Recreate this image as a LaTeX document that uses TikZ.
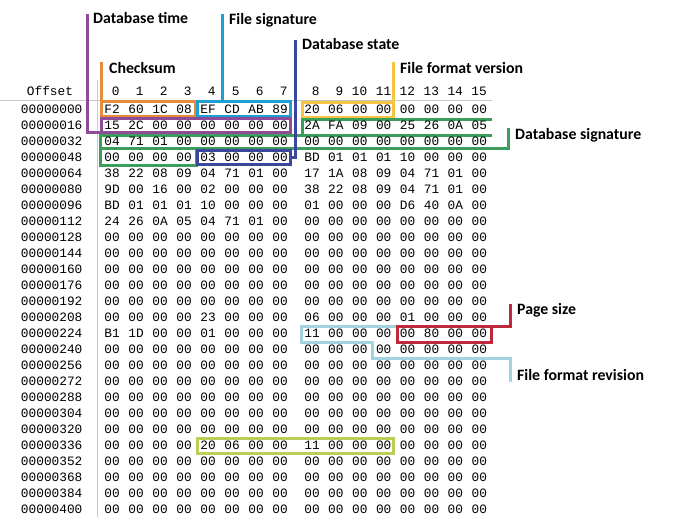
\documentclass[tikz,border=0pt]{standalone}
\usepackage{fontspec}
\setmonofont{Liberation Mono}
\newfontfamily\lblfont{Carlito}
\definecolor{cpurple}{HTML}{8E4B97}
\definecolor{corange}{HTML}{E58B3A}
\definecolor{ccyan}{HTML}{1E9FD2}
\definecolor{cdblue}{HTML}{3B479C}
\definecolor{cyellow}{HTML}{F4C542}
\definecolor{cgreen}{HTML}{3A9D5A}
\definecolor{cred}{HTML}{BE2A3C}
\definecolor{clblue}{HTML}{A3D3DE}
\definecolor{clime}{HTML}{B9CF55}
\definecolor{gridgray}{HTML}{C8C8C8}
\tikzset{
  hex/.style={font=\ttfamily\fontsize{12.8}{14}\selectfont, inner sep=0pt, anchor=base},
  hexhead/.style={font=\ttfamily\fontsize{12.8}{14}\selectfont, inner sep=0pt, anchor=base east},
  lbl/.style={font=\lblfont\bfseries\fontsize{15.8}{18}\selectfont, inner sep=0pt, anchor=base west},
  hlbox/.style={line width=3pt, line join=miter},
  gridline/.style={draw=gridgray, line width=1pt}
}
\begin{document}
\begin{tikzpicture}[x=1pt,y=-1pt]
\useasboundingbox (0,0) rectangle (676,527);
% grid lines
\draw[gridline] (0,100) -- (492,100);
\draw[gridline] (97,80) -- (97,517);
% header
\node[hex] (offhead) at (50,95) {Offset};
\foreach \h in {0,...,15} {
  \pgfmathsetmacro{\xx}{ifthenelse(\h<8, 112+24*\h, 312+23.9*(\h-8))+7.7}
  \node[hexhead] (h-\h) at (\xx,95) {\h};
}
% highlight boxes and connectors
\draw[hlbox, corange] (101,62) -- (101,101);
\draw[hlbox, corange] (101,101) rectangle (195,116);
\draw[hlbox, ccyan] (222,14) -- (222,101);
\draw[hlbox, ccyan] (197,101) rectangle (290,116);
\draw[hlbox, cyellow] (393,62) -- (393,102);
\draw[hlbox, cyellow] (302,102) rectangle (393,117);
\draw[hlbox, cgreen] (492,119) -- (302,119) -- (302,135);
\draw[hlbox, cgreen] (492,135) -- (100,135) -- (100,165) -- (196,165) -- (196,148);
\draw[hlbox, cgreen] (100,148) -- (508,148) -- (508,128);
\draw[hlbox, cpurple] (87,14) -- (87,132) -- (101,132);
\draw[hlbox, cpurple] (101,118) rectangle (290,132);
\draw[hlbox, cdblue] (295,40) -- (295,157) -- (290,157);
\draw[hlbox, cdblue] (197,150) rectangle (290,164);
\draw[hlbox, clblue] (397,326) -- (301,326) -- (301,342) -- (372,342) -- (372,358) -- (510,358) -- (510,382);
\draw[hlbox, cred] (397,326) rectangle (491,342);
\draw[hlbox, cred] (491,326) -- (510,326) -- (510,304);
\draw[hlbox, clime] (197,438) rectangle (393,453);
% labels
\node[lbl] (l-time) at (93,24) {Database time};
\node[lbl] (l-sig) at (229,25) {File signature};
\node[lbl] (l-state) at (302,49) {Database state};
\node[lbl] (l-check) at (109,74) {Checksum};
\node[lbl] (l-ver) at (400,73) {File format version};
\node[lbl] (l-dbsig) at (515,139) {Database signature};
\node[lbl] (l-page) at (517,314) {Page size};
\node[lbl] (l-rev) at (517,380) {File format revision};
% data
\foreach \off/\vals [count=\r from 0] in {
 00000000/{F2,60,1C,08,EF,CD,AB,89,20,06,00,00,00,00,00,00},
 00000016/{15,2C,00,00,00,00,00,00,2A,FA,09,00,25,26,0A,05},
 00000032/{04,71,01,00,00,00,00,00,00,00,00,00,00,00,00,00},
 00000048/{00,00,00,00,03,00,00,00,BD,01,01,01,10,00,00,00},
 00000064/{38,22,08,09,04,71,01,00,17,1A,08,09,04,71,01,00},
 00000080/{9D,00,16,00,02,00,00,00,38,22,08,09,04,71,01,00},
 00000096/{BD,01,01,01,10,00,00,00,01,00,00,00,D6,40,0A,00},
 00000112/{24,26,0A,05,04,71,01,00,00,00,00,00,00,00,00,00},
 00000128/{00,00,00,00,00,00,00,00,00,00,00,00,00,00,00,00},
 00000144/{00,00,00,00,00,00,00,00,00,00,00,00,00,00,00,00},
 00000160/{00,00,00,00,00,00,00,00,00,00,00,00,00,00,00,00},
 00000176/{00,00,00,00,00,00,00,00,00,00,00,00,00,00,00,00},
 00000192/{00,00,00,00,00,00,00,00,00,00,00,00,00,00,00,00},
 00000208/{00,00,00,00,23,00,00,00,06,00,00,00,01,00,00,00},
 00000224/{B1,1D,00,00,01,00,00,00,11,00,00,00,00,80,00,00},
 00000240/{00,00,00,00,00,00,00,00,00,00,00,00,00,00,00,00},
 00000256/{00,00,00,00,00,00,00,00,00,00,00,00,00,00,00,00},
 00000272/{00,00,00,00,00,00,00,00,00,00,00,00,00,00,00,00},
 00000288/{00,00,00,00,00,00,00,00,00,00,00,00,00,00,00,00},
 00000304/{00,00,00,00,00,00,00,00,00,00,00,00,00,00,00,00},
 00000320/{00,00,00,00,00,00,00,00,00,00,00,00,00,00,00,00},
 00000336/{00,00,00,00,20,06,00,00,11,00,00,00,00,00,00,00},
 00000352/{00,00,00,00,00,00,00,00,00,00,00,00,00,00,00,00},
 00000368/{00,00,00,00,00,00,00,00,00,00,00,00,00,00,00,00},
 00000384/{00,00,00,00,00,00,00,00,00,00,00,00,00,00,00,00},
 00000400/{00,00,00,00,00,00,00,00,00,00,00,00,00,00,00,00}} {
  \pgfmathsetmacro{\yy}{109.5+16*\r+4}
  \node[hex] (off-\r) at (51.7,\yy) {\off};
  \foreach \v [count=\ci from 0] in \vals {
    \pgfmathsetmacro{\xx}{ifthenelse(\ci<8, 112+24*\ci, 312+23.9*(\ci-8))}
    \node[hex] (b-\r-\ci) at (\xx,\yy) {\v};
  }
}
\end{tikzpicture}
\end{document}
